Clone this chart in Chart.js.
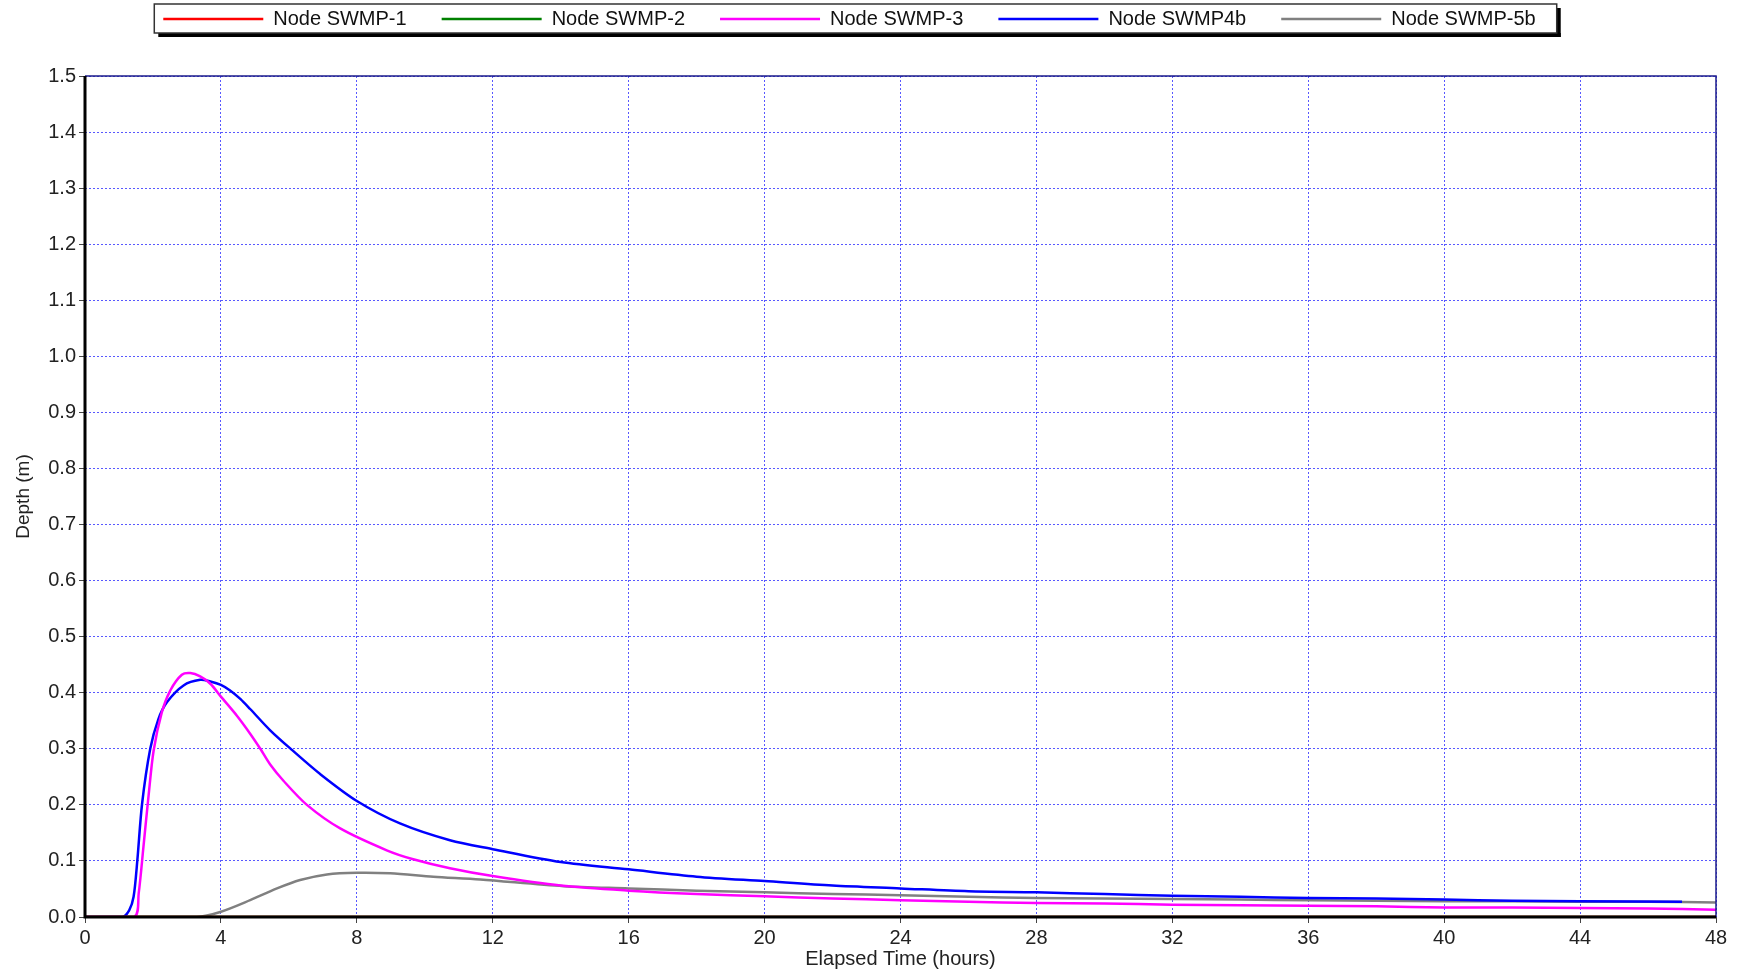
<!DOCTYPE html>
<html>
<head>
<meta charset="utf-8">
<script src="https://cdn.jsdelivr.net/npm/chart.js@4.4.1/dist/chart.umd.min.js"></script>
<style>
  html, body { margin: 0; padding: 0; background: #fff; }
  #wrap { width: 1741px; height: 975px; }
</style>
</head>
<body>
<div id="wrap"><canvas id="chart"></canvas></div>
<script>
// depth (m) vs elapsed time (hours)
const seriesNames = ["Node SWMP-1", "Node SWMP-2", "Node SWMP-3", "Node SWMP4b", "Node SWMP-5b"];
const seriesColors = ["#ff0000", "#008000", "#ff00ff", "#0000ff", "#808080"];

const hoursSwmp1 = [0, 48];
const depthSwmp1 = [0, 0];
const hoursSwmp2 = [0, 48];
const depthSwmp2 = [0, 0];

const hoursSwmp3 = [0, 1.45, 1.58, 1.72, 1.87, 2.02, 2.26, 2.51, 2.85, 3.1, 3.39, 3.69, 4.0, 4.47, 4.86, 5.16, 5.45, 5.84, 6.53, 7.51, 8.88, 9.66, 10.74, 12, 14, 16, 18, 20, 22, 24, 26, 28, 30, 32, 34, 36, 38, 40, 42, 44, 46, 48];
const depthSwmp3 = [0, 0, 0.042, 0.125, 0.216, 0.297, 0.365, 0.404, 0.432, 0.435, 0.429, 0.416, 0.393, 0.359, 0.327, 0.300, 0.272, 0.243, 0.200, 0.158, 0.119, 0.103, 0.087, 0.073, 0.056, 0.047, 0.041, 0.037, 0.033, 0.030, 0.027, 0.025, 0.024, 0.022, 0.021, 0.020, 0.019, 0.017, 0.017, 0.016, 0.015, 0.013];

const hoursSwmp4b = [0, 1.1, 1.3, 1.43, 1.54, 1.68, 1.92, 2.16, 2.41, 2.9, 3.39, 3.69, 4.0, 4.27, 4.57, 4.86, 5.45, 6.09, 6.92, 8.0, 9.27, 10.74, 12, 14, 16, 18, 20, 22, 24, 26, 28, 30, 32, 34, 36, 38, 40, 42, 44, 47];
const depthSwmp4b = [0, 0, 0.012, 0.036, 0.101, 0.202, 0.300, 0.353, 0.383, 0.413, 0.423, 0.420, 0.414, 0.404, 0.389, 0.371, 0.333, 0.298, 0.255, 0.207, 0.167, 0.137, 0.121, 0.098, 0.085, 0.072, 0.064, 0.056, 0.051, 0.046, 0.044, 0.041, 0.038, 0.036, 0.034, 0.033, 0.031, 0.029, 0.028, 0.027];

const hoursSwmp5b = [0, 3.29, 3.98, 4.86, 5.65, 6.33, 7.12, 8.0, 8.98, 10.25, 11.63, 14.08, 16, 18, 20, 22, 24, 26, 28, 30, 32, 34, 36, 38, 40, 42, 44, 46, 48];
const depthSwmp5b = [0, 0, 0.009, 0.030, 0.051, 0.066, 0.076, 0.079, 0.078, 0.072, 0.067, 0.055, 0.051, 0.047, 0.044, 0.041, 0.039, 0.036, 0.034, 0.033, 0.032, 0.031, 0.030, 0.029, 0.028, 0.028, 0.027, 0.027, 0.026];

const xTicks = [0, 4, 8, 12, 16, 20, 24, 28, 32, 36, 40, 44, 48];
const yTicks = [0, 0.1, 0.2, 0.3, 0.4, 0.5, 0.6, 0.7, 0.8, 0.9, 1.0, 1.1, 1.2, 1.3, 1.4, 1.5];

const allHours = [hoursSwmp1, hoursSwmp2, hoursSwmp3, hoursSwmp4b, hoursSwmp5b];
const allDepths = [depthSwmp1, depthSwmp2, depthSwmp3, depthSwmp4b, depthSwmp5b];

function toPoints(hours, depth) {
  return hours.map((h, i) => ({ x: h, y: depth[i] }));
}

const FONT = "'Liberation Sans', Arial, sans-serif";
const GRID = "rgba(70, 70, 255, 0.9)";

// frame: black left/bottom axes, navy top/right, legend box with shadow
const framePlugin = {
  id: "frame",
  afterDatasetsDraw(chart) {
    const a = chart.chartArea;
    const ctx = chart.ctx;
    ctx.save();
    ctx.strokeStyle = "#1c1c8a";
    ctx.lineWidth = 1.5;
    ctx.beginPath();
    ctx.moveTo(a.left, a.top);
    ctx.lineTo(a.right, a.top);
    ctx.lineTo(a.right, a.bottom);
    ctx.stroke();
    ctx.strokeStyle = "#000";
    ctx.lineWidth = 3;
    ctx.beginPath();
    ctx.moveTo(a.left, a.top);
    ctx.lineTo(a.left, a.bottom);
    ctx.lineTo(a.right, a.bottom);
    ctx.stroke();
    ctx.restore();
  },
  afterDraw(chart) {
    const boxes = chart.legend && chart.legend.legendHitBoxes;
    if (!boxes || !boxes.length) return;
    const ctx = chart.ctx;
    const first = boxes[0];
    const last = boxes[boxes.length - 1];
    const mid = first.top + first.height / 2;
    const l = first.left - 9;
    const r = last.left + last.width + 21;
    const t = mid - 15;
    const b = mid + 14;
    ctx.save();
    ctx.fillStyle = "#000";
    ctx.fillRect(r, t + 4, 4, b - t);
    ctx.fillRect(l + 4, b, r - l, 4);
    ctx.strokeStyle = "#333";
    ctx.lineWidth = 1.5;
    ctx.strokeRect(l, t, r - l, b - t);
    ctx.restore();
  }
};

new Chart(document.getElementById("chart"), {
  type: "line",
  data: {
    datasets: seriesNames.map((name, i) => ({
      label: name,
      data: toPoints(allHours[i], allDepths[i]),
      borderColor: seriesColors[i],
      backgroundColor: seriesColors[i],
      borderWidth: 2.5,
      pointRadius: 0,
      pointStyle: "line",
      tension: 0.3,
      fill: false
    }))
  },
  options: {
    responsive: true,
    maintainAspectRatio: false,
    animation: false,
    layout: { padding: { top: -26, left: -17, right: 25, bottom: 0 } },
    plugins: {
      legend: {
        position: "top",
        weight: 3000,
        labels: {
          usePointStyle: true,
          pointStyleWidth: 100,
          padding: 35,
          color: "#111",
          font: { family: FONT, size: 20 }
        }
      },
      title: {
        display: true,
        text: "",
        font: { size: 10 },
        padding: { top: 0, bottom: 25 }
      },
      tooltip: { enabled: false }
    },
    scales: {
      x: {
        type: "linear",
        min: 0,
        max: 48,
        afterBuildTicks: s => { s.ticks = xTicks.map(v => ({ value: v })); },
        afterFit: s => { s.height = 58; },
        grid: { color: GRID, lineWidth: 1, tickLength: 6, tickColor: "#444" },
        border: { display: false, dash: [2, 2] },
        ticks: { color: "#222", padding: 3, maxRotation: 0, font: { family: FONT, size: 20 } },
        title: {
          display: true,
          text: "Elapsed Time (hours)",
          color: "#222",
          font: { family: FONT, size: 20 },
          padding: { top: 0, bottom: 4 }
        }
      },
      y: {
        min: 0,
        max: 1.5,
        afterBuildTicks: s => { s.ticks = yTicks.map(v => ({ value: v })); },
        afterFit: s => { s.width = 102; },
        grid: { color: GRID, lineWidth: 1, tickLength: 6, tickColor: "#444" },
        border: { display: false, dash: [2, 2] },
        ticks: {
          color: "#222",
          padding: 3,
          font: { family: FONT, size: 20 },
          callback: v => Number(v).toFixed(1)
        },
        title: {
          display: true,
          text: "Depth (m)",
          color: "#222",
          font: { family: FONT, size: 19 },
          padding: { top: 29, bottom: 0 }
        }
      }
    }
  },
  plugins: [framePlugin]
});
</script>
</body>
</html>
